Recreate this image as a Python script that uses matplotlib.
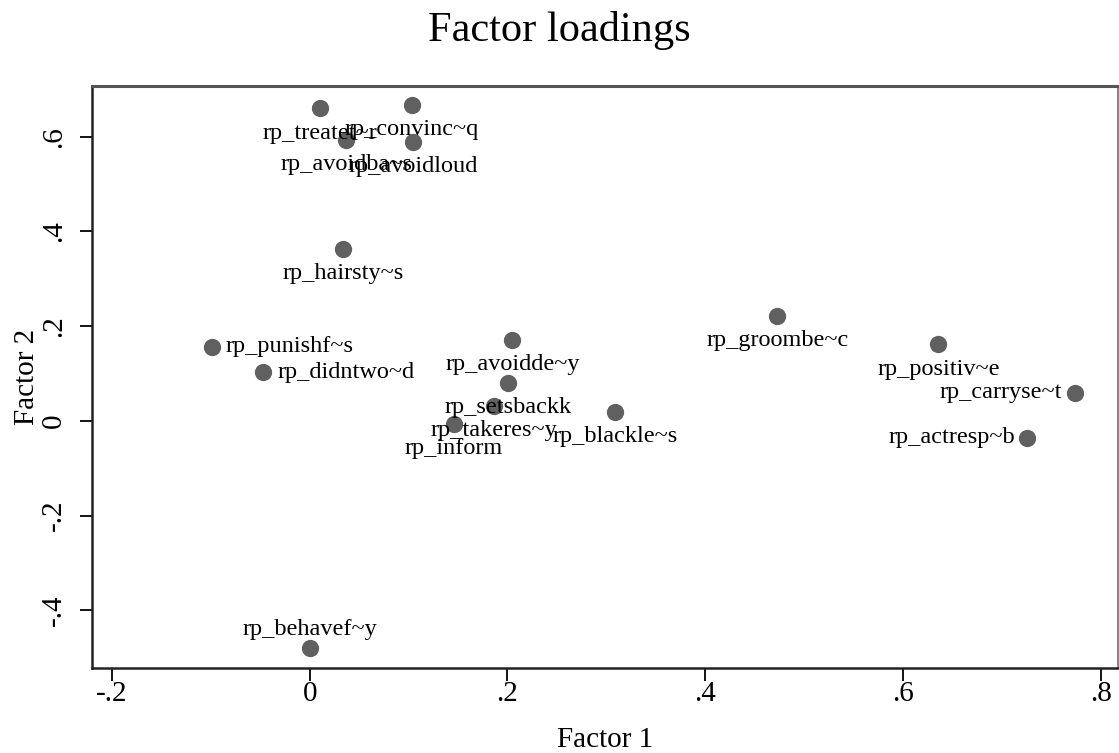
import matplotlib
matplotlib.use('Agg')
import matplotlib.pyplot as plt

plt.rcParams['font.family'] = ['Liberation Serif', 'DejaVu Serif']

# factor loadings
var_labels = ['rp_treatet~r', 'rp_convinc~q', 'rp_avoidba~s', 'rp_avoidloud',
              'rp_hairsty~s', 'rp_punishf~s', 'rp_didntwo~d', 'rp_avoidde~y',
              'rp_setsbackk', 'rp_takeres~y', 'rp_inform', 'rp_blackle~s',
              'rp_groombe~c', 'rp_positiv~e', 'rp_carryse~t', 'rp_actresp~b',
              'rp_behavef~y']
factor1 = [0.010, 0.103, 0.037, 0.105, 0.034, -0.099, -0.047, 0.205,
           0.201, 0.186, 0.146, 0.309, 0.473, 0.636, 0.774, 0.726, 0.000]
factor2 = [0.660, 0.667, 0.593, 0.589, 0.363, 0.156, 0.103, 0.171,
           0.080, 0.032, -0.006, 0.019, 0.222, 0.162, 0.059, -0.036, -0.479]
# label clock position (Stata style): 6 below, 3 right, 9 left, 12 above
label_pos = [6, 6, 6, 6, 6, 3, 3, 6, 6, 6, 6, 6, 6, 6, 9, 9, 12]

xticks = [-0.2, 0, 0.2, 0.4, 0.6, 0.8]
xticklabels = ['-.2', '0', '.2', '.4', '.6', '.8']
yticks = [-0.4, -0.2, 0, 0.2, 0.4, 0.6]
yticklabels = ['-.4', '-.2', '0', '.2', '.4', '.6']

fig = plt.figure(figsize=(11.19, 7.53), dpi=100)
ax = fig.add_axes([0.0822, 0.1135, 0.9168, 0.7723])

ax.scatter(factor1, factor2, s=155, color='#606060', zorder=3, linewidths=0)

offsets = {6: ((0, -18), 'center', 'center'),
           3: ((10, 0), 'left', 'center'),
           9: ((-9, 0), 'right', 'center'),
           12: ((0, 13), 'center', 'center')}
for lab, x, y, p in zip(var_labels, factor1, factor2, label_pos):
    off, ha, va = offsets[p]
    ax.annotate(lab, (x, y), xytext=off, textcoords='offset points',
                ha=ha, va=va, fontsize=17.5, color='black', zorder=4)

ax.set_xlim(-0.2202, 0.8175)
ax.set_ylim(-0.521, 0.707)
ax.set_xticks(xticks)
ax.set_xticklabels(xticklabels)
ax.set_yticks(yticks)
ax.set_yticklabels(yticklabels, rotation=90, va='center')
ax.tick_params(direction='out', length=9, width=1.3, labelsize=21)
ax.tick_params(axis='x', pad=1)
ax.tick_params(axis='y', pad=9)
for side in ['left', 'bottom']:
    ax.spines[side].set_linewidth(1.8)
    ax.spines[side].set_color('#222222')
ax.spines['top'].set_linewidth(2.2)
ax.spines['top'].set_color('#555555')
ax.spines['right'].set_linewidth(1.5)
ax.spines['right'].set_color('#888888')

ax.set_xlabel('Factor 1', fontsize=21, labelpad=14)
ax.set_ylabel('Factor 2', fontsize=21, labelpad=1)

fig.text(0.5, 0.96, 'Factor loadings', ha='center', va='center', fontsize=30.5)

fig.savefig('out.png', dpi=100)
